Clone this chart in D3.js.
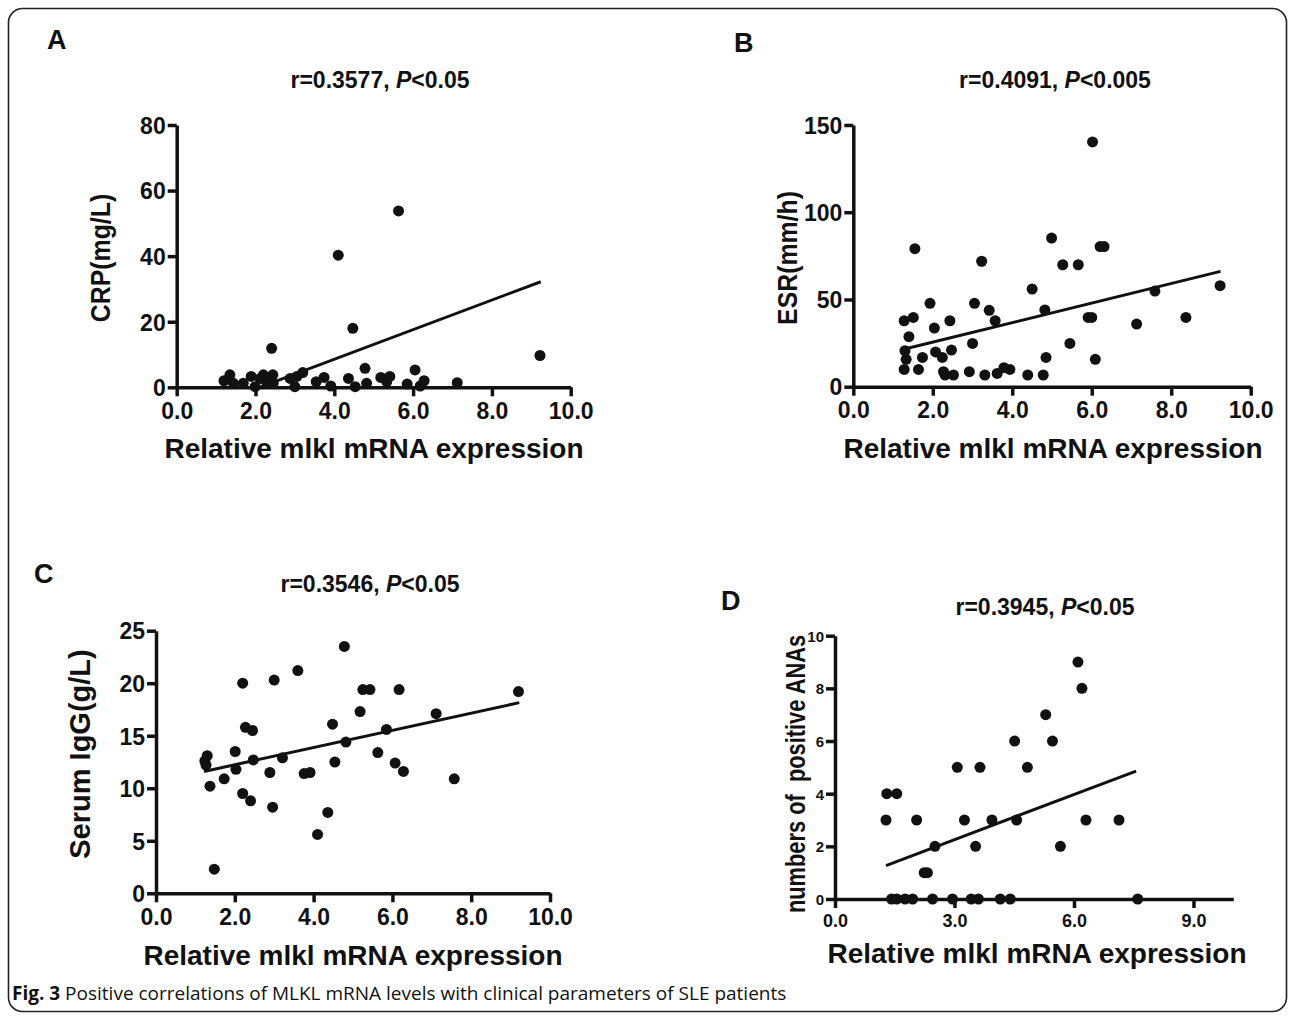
<!DOCTYPE html>
<html>
<head>
<meta charset="utf-8">
<script src="https://cdn.jsdelivr.net/npm/d3@7"></script>
<style>
  body { margin: 0; background: #fff; }
  svg text { font-family: "Liberation Sans", Arial, sans-serif; font-weight: bold; fill: #111; }
  .caption { font-family: "Open Sans", "Noto Sans", sans-serif; font-weight: normal; }
</style>
</head>
<body>
<svg id="fig" width="1295" height="1017"></svg>
<script>
// A: CRP vs relative mlkl mRNA
const crpX = [1.2, 1.35, 1.44, 1.69, 1.89, 1.99, 2.12, 2.2, 2.28, 2.41, 2.44, 2.45, 2.88, 3.0, 3.05, 3.2, 3.54, 3.74, 3.91, 4.1, 4.36, 4.47, 4.53, 4.78, 4.82, 5.18, 5.33, 5.41, 5.63, 5.85, 6.05, 6.18, 6.28, 7.12, 9.22];
const crpY = [2.0, 3.8, 1.2, 1.2, 3.3, 0.2, 2.7, 3.8, 1.7, 11.9, 3.8, 1.2, 2.7, 0.2, 3.3, 4.5, 1.7, 3.0, 0.4, 40.3, 2.7, 18.0, 0.2, 5.8, 1.2, 3.0, 1.7, 3.3, 53.8, 1.0, 5.3, 0.4, 2.0, 1.4, 9.7];
const crpFit = [[2.1, 0], [9.24, 32.2]];

// B: ESR
const esrX = [1.28, 1.51, 1.4, 1.3, 1.33, 1.28, 1.55, 1.64, 1.74, 1.93, 2.04, 2.07, 2.24, 2.27, 2.31, 2.43, 2.47, 2.52, 2.92, 3.0, 3.05, 3.23, 3.31, 3.42, 3.57, 3.62, 3.79, 3.94, 4.39, 4.5, 4.78, 4.82, 4.85, 4.99, 5.27, 5.45, 5.66, 5.91, 6.0, 6.02, 6.09, 6.21, 6.31, 7.13, 7.59, 8.37, 9.23];
const esrY = [37.8, 39.7, 28.7, 20.6, 15.7, 9.9, 79.1, 9.9, 16.8, 47.8, 33.6, 19.9, 16.8, 8.6, 6.7, 37.8, 21.0, 6.7, 8.6, 24.8, 47.8, 71.9, 6.7, 43.8, 37.8, 7.6, 10.9, 9.9, 6.7, 56.0, 6.7, 44.0, 16.8, 85.2, 69.9, 24.8, 69.9, 39.7, 39.7, 140.3, 15.7, 80.3, 80.3, 35.9, 54.8, 39.7, 57.9];
const esrFit = [[1.37, 22.0], [9.24, 66.1]];

// C: serum IgG
const iggX = [1.24, 1.3, 1.27, 1.37, 1.48, 1.73, 2.01, 2.03, 2.2, 2.2, 2.27, 2.4, 2.45, 2.47, 2.89, 2.96, 3.0, 3.21, 3.6, 3.76, 3.91, 4.1, 4.36, 4.48, 4.54, 4.78, 4.82, 5.18, 5.25, 5.43, 5.63, 5.85, 6.07, 6.17, 6.28, 7.11, 7.57, 9.2];
const iggY = [12.6, 13.1, 12.2, 10.2, 2.3, 10.9, 13.5, 11.8, 20.0, 9.5, 15.8, 8.8, 15.5, 12.7, 11.5, 8.2, 20.3, 12.9, 21.2, 11.4, 11.5, 5.6, 7.7, 16.1, 12.5, 23.5, 14.4, 17.3, 19.4, 19.4, 13.4, 15.6, 12.4, 19.4, 11.6, 17.1, 10.9, 19.2];
const iggFit = [[1.22, 11.6], [9.22, 18.15]];

// D: number of positive ANAs
const anaX = [1.28, 1.3, 1.55, 1.42, 1.55, 1.76, 1.95, 2.05, 2.24, 2.32, 2.45, 2.51, 2.95, 3.07, 3.25, 3.42, 3.53, 3.6, 3.64, 3.94, 4.15, 4.4, 4.51, 4.56, 4.83, 5.29, 5.46, 5.66, 6.1, 6.2, 6.3, 7.13, 7.6];
const anaY = [3, 4, 4, 0, 0, 0, 0, 3, 1, 1, 0, 2, 0, 5, 3, 0, 2, 0, 5, 3, 0, 0, 6, 3, 5, 7, 6, 2, 9, 8, 3, 3, 0];
const anaFit = [[1.28, 1.27], [7.56, 4.86]];

const xTicks10 = [0, 2, 4, 6, 8, 10];
const xTicks9 = [0, 3, 6, 9];

const svg = d3.select('#fig');

// outer frame
svg.append('rect')
  .attr('x', 8.5).attr('y', 8.5)
  .attr('width', 1278).attr('height', 1003)
  .attr('rx', 14)
  .attr('fill', 'none')
  .attr('stroke', '#222')
  .attr('stroke-width', 1.6);

const panels = [
  { letter: 'A', lx: 47, ly: 49, r: '0.3577', p: '0.05', tx: 380, ty: 88,
    xs: crpX, ys: crpY, fit: crpFit, yDomain: [0, 80], yTicks: [0, 20, 40, 60, 80], xDomain: [0, 10], xTicks: xTicks10,
    box: [176.7, 570.7, 125, 387.3], yLabel: 'CRP(mg/L)', ylx: 100, yly: 258, ylFs: 27, ylSx: 0.92,
    xlx: 374, xly: 458, tickFs: 23, yTickFs: 23 },
  { letter: 'B', lx: 734, ly: 52, r: '0.4091', p: '0.005', tx: 1055, ty: 88,
    xs: esrX, ys: esrY, fit: esrFit, yDomain: [0, 150], yTicks: [0, 50, 100, 150], xDomain: [0, 10], xTicks: xTicks10,
    box: [853.3, 1250.7, 125, 386.7], yLabel: 'ESR(mm/h)', ylx: 787, yly: 258, ylFs: 27, ylSx: 0.92,
    xlx: 1053, xly: 458, tickFs: 23, yTickFs: 23 },
  { letter: 'C', lx: 34, ly: 583, r: '0.3546', p: '0.05', tx: 370, ty: 592,
    xs: iggX, ys: iggY, fit: iggFit, yDomain: [0, 25], yTicks: [0, 5, 10, 15, 20, 25], xDomain: [0, 10], xTicks: xTicks10,
    box: [156, 550, 630.7, 893.3], yLabel: 'Serum IgG(g/L)', ylx: 80, yly: 754, ylFs: 29, ylSx: 1,
    xlx: 353, xly: 965, tickFs: 23, yTickFs: 23 },
  { letter: 'D', lx: 721, ly: 610, r: '0.3945', p: '0.05', tx: 1045, ty: 615,
    xs: anaX, ys: anaY, fit: anaFit, yDomain: [0, 10], yTicks: [0, 2, 4, 6, 8, 10], xDomain: [0, 10], xTicks: xTicks9,
    box: [835, 1233.3, 635.7, 899], yLabel: 'numbers of\u00a0\u00a0positive ANAs', ylx: 795, yly: 774, ylFs: 28, ylSx: 0.78,
    xlx: 1037, xly: 963, tickFs: 18, yTickFs: 15 }
];

panels.forEach((p) => {
  const [left, right, top, bottom] = p.box;
  const x = d3.scaleLinear().domain(p.xDomain).range([left, right]);
  const y = d3.scaleLinear().domain(p.yDomain).range([bottom, top]);
  const g = svg.append('g');

  g.append('text')
    .attr('x', p.lx).attr('y', p.ly)
    .attr('font-size', 27)
    .text(p.letter);

  const title = g.append('text')
    .attr('x', p.tx).attr('y', p.ty)
    .attr('text-anchor', 'middle')
    .attr('font-size', 23);
  title.append('tspan').text(`r=${p.r}, `);
  title.append('tspan').attr('font-style', 'italic').text('P');
  title.append('tspan').text(`<${p.p}`);

  const xAxis = g.append('g')
    .attr('transform', `translate(0,${bottom})`)
    .call(d3.axisBottom(x).tickValues(p.xTicks).tickFormat(d3.format('.1f')).tickSize(9).tickSizeOuter(0).tickPadding(6));
  const yAxis = g.append('g')
    .attr('transform', `translate(${left},0)`)
    .call(d3.axisLeft(y).tickValues(p.yTicks).tickFormat(d3.format('d')).tickSize(9).tickSizeOuter(0).tickPadding(2));

  [xAxis, yAxis].forEach((ax) => {
    ax.select('.domain').attr('stroke', '#111').attr('stroke-width', 3.5);
    ax.selectAll('.tick line').attr('stroke', '#111').attr('stroke-width', 3.5);
    ax.selectAll('.tick text').attr('fill', '#111').attr('font-family', '"Liberation Sans", Arial, sans-serif').attr('font-weight', 'bold');
  });
  xAxis.selectAll('.tick text').attr('font-size', p.tickFs);
  yAxis.selectAll('.tick text').attr('font-size', p.yTickFs).attr('dy', '0.36em');

  g.append('text')
    .attr('x', p.xlx).attr('y', p.xly)
    .attr('text-anchor', 'middle')
    .attr('font-size', 28)
    .text('Relative mlkl mRNA expression');

  g.append('text')
    .attr('transform', `translate(${p.ylx},${p.yly}) rotate(-90) scale(${p.ylSx},1)`)
    .attr('text-anchor', 'middle')
    .attr('dy', '0.36em')
    .attr('font-size', p.ylFs)
    .text(p.yLabel);

  g.append('line')
    .attr('x1', x(p.fit[0][0])).attr('y1', y(p.fit[0][1]))
    .attr('x2', x(p.fit[1][0])).attr('y2', y(p.fit[1][1]))
    .attr('stroke', '#111')
    .attr('stroke-width', 3);

  g.selectAll('.dot')
    .data(p.xs.map((v, i) => [v, p.ys[i]]))
    .enter()
    .append('circle')
    .attr('class', 'dot')
    .attr('cx', d => x(d[0]))
    .attr('cy', d => y(d[1]))
    .attr('r', 5.5)
    .attr('fill', '#111');
});

const caption = svg.append('text')
  .attr('class', 'caption')
  .attr('x', 12).attr('y', 1000)
  .attr('font-size', 19);
caption.append('tspan').attr('font-weight', 'bold').text('Fig. 3');
caption.append('tspan').text(' Positive correlations of MLKL mRNA levels with clinical parameters of SLE patients');
</script>
</body>
</html>
